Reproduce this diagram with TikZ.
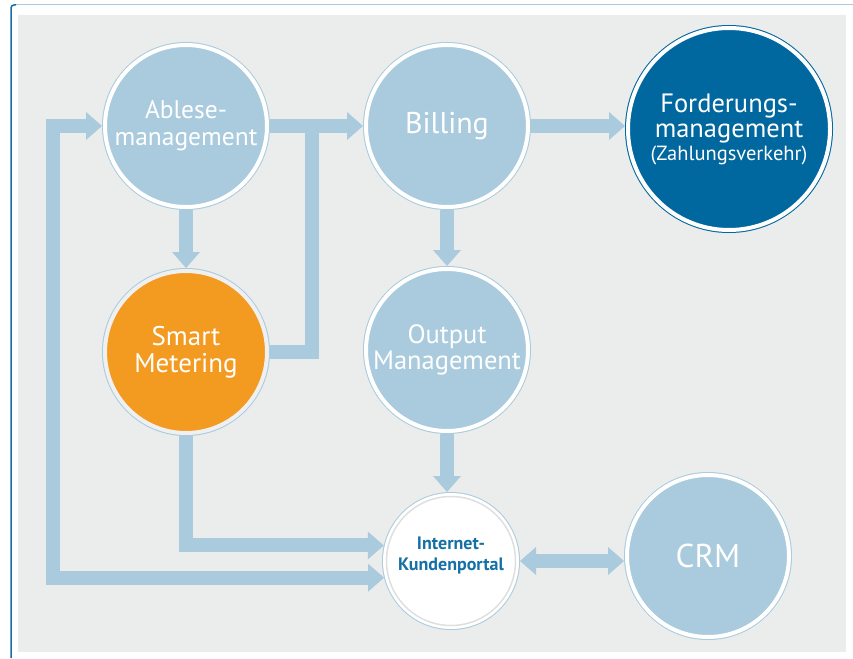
\documentclass[tikz,border=0pt]{standalone}
\usepackage{fontspec}
\setmainfont{PT Sans}
\usetikzlibrary{arrows.meta}
\definecolor{lb}{HTML}{A9CBDD}
\definecolor{db}{HTML}{00679F}
\definecolor{org}{HTML}{F39A20}
\definecolor{bgg}{HTML}{EBECEC}
\definecolor{txtb}{HTML}{1570A6}
\definecolor{frameb}{HTML}{1A6EA8}
\tikzset{
  bigtri/.tip={Triangle[width=28pt,length=16pt,line width=0pt]},
  band/.style={draw=lb, line width=14pt, line join=miter},
  circ/.style={circle, inner sep=0pt, outer sep=3pt, fill=lb, draw=white,
    line width=4pt, preaction={draw=lb, line width=6pt}, text=white, align=center},
}
\begin{document}
\begin{tikzpicture}[x=1pt,y=-1pt]
\useasboundingbox (0,0) rectangle (853,658);
\fill[white] (0,0) rectangle (853,658);
\fill[bgg] (18,15) rectangle (846,652);
\draw[lb, line width=1pt] (14,5) -- (853,5);
\draw[frameb, line width=1.5pt, rounded corners=3pt] (11,658) -- (11,5) -- (16,5);

% nodes
\node[circ, minimum size=162pt, font=\fontsize{25.5}{27}\selectfont] (abl) at (186,126) {Ablese-\\management};
\node[circ, minimum size=162pt, font=\fontsize{30}{32}\selectfont] (bil) at (447,126) {Billing};
\node[circ, minimum size=202pt, fill=db, preaction={draw=db, line width=6pt}, font=\fontsize{26.5}{25}\selectfont] (fdm) at (729,129)
  {Forderungs-\\management\\[-2pt]{\fontsize{20.5}{22}\selectfont(Zahlungsverkehr)}};
\node[circ, minimum size=162pt, fill=org, draw=gray!12, font=\fontsize{27}{27}\selectfont] (smt) at (186,352) {Smart\\Metering};
\node[circ, minimum size=162pt, font=\fontsize{26.5}{26}\selectfont] (out) at (447,350) {Output\\Management};
\node[circ, minimum size=132pt, fill=white,
  label={[font=\bfseries\fontsize{18}{21}\selectfont, text=txtb, align=center, yshift=6pt]center:{Internet-\\Kundenportal}}] (ikp) at (451,561) {};
\draw[gray!25, line width=1.5pt] (ikp.center) circle (64.5);
\node[circ, minimum size=162pt, font=\fontsize{33}{35}\selectfont] (crm) at (708,556) {CRM};

% connectors
\coordinate (jn) at (312,126);
\coordinate (lc) at (53,126);
\draw[band, -bigtri] (abl.east) -- (bil.west);
\draw[band] (smt.east) -| (jn);
\draw[band, -bigtri] (abl.south) -- (smt.north);
\draw[band, -bigtri] (bil.east) -- (bil.east -| fdm.west);
\draw[band, -bigtri] (bil.south) -- (out.north);
\draw[band, -bigtri] (out.south) -- (out.south |- ikp.north);
\draw[band, -bigtri] (smt.south) |- (ikp.167);
\draw[band, bigtri-bigtri] (ikp.194) -| (lc) -- (abl.west);
\draw[band, bigtri-bigtri] (ikp.east) -- (ikp.east -| crm.west);
\end{tikzpicture}
\end{document}
